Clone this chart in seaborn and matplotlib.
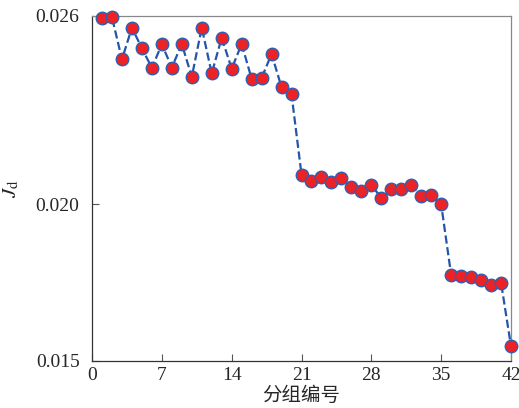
import matplotlib
matplotlib.use("Agg")
import matplotlib.pyplot as plt
import pandas as pd
import seaborn as sns

group_ids = list(range(1, 43))
jd_values = [
    0.02592, 0.02595, 0.02461, 0.02562, 0.02496, 0.02434, 0.02509, 0.02435,
    0.02510, 0.02405, 0.02562, 0.02416, 0.02530, 0.02431, 0.02510, 0.02399,
    0.02402, 0.02478, 0.02372, 0.02349, 0.02094, 0.02073, 0.02086, 0.02071,
    0.02083, 0.02054, 0.02042, 0.02060, 0.02020, 0.02048, 0.02048, 0.02062,
    0.02027, 0.02030, 0.01999, 0.01774, 0.01772, 0.01768, 0.01759, 0.01742,
    0.01750, 0.01547,
]
x_ticks = [0, 7, 14, 21, 28, 35, 42]
y_ticks = [0.015, 0.020, 0.026]
y_tick_labels = ["0.015", "0.020", "0.026"]

df = pd.DataFrame({"group": group_ids, "jd": jd_values})

sns.set_style("ticks")
plt.rcParams["font.family"] = ["Liberation Serif", "Noto Sans CJK SC", "DejaVu Sans"]
plt.rcParams["mathtext.fontset"] = "stix"

fig = plt.figure(figsize=(5.19, 4.08), dpi=100)
ax = fig.add_axes([0.1773, 0.1152, 0.8073, 0.8463])

sns.lineplot(
    data=df, x="group", y="jd", ax=ax,
    color="#2455a8", linestyle="--", linewidth=1.6,
    marker="o", markersize=9, markerfacecolor="#ec2227",
    markeredgecolor="#2f5fb0", markeredgewidth=1.0,
    clip_on=False, zorder=3,
)

ax.set_xlim(0, 42)
ax.set_ylim(0.015, 0.026)
ax.set_xticks(x_ticks)
ax.set_yticks(y_ticks)
ax.set_yticklabels(y_tick_labels)
ax.tick_params(direction="in", length=5, width=0.8, labelsize=14, color="#555555")
ax.tick_params(axis="x", pad=4)
ax.tick_params(axis="y", pad=9)
for side in ["top", "right"]:
    ax.spines[side].set_visible(True)
    ax.spines[side].set_color("#888888")
for side in ["left", "bottom"]:
    ax.spines[side].set_color("#333333")
for s in ax.spines.values():
    s.set_linewidth(0.9)

ax.set_xlabel("分组编号", fontsize=14, family=["Noto Sans CJK SC", "DejaVu Sans"], labelpad=1)
ax.set_ylabel(r"$J_\mathrm{d}$", fontsize=15, labelpad=10)

fig.savefig("out.png", dpi=100)
